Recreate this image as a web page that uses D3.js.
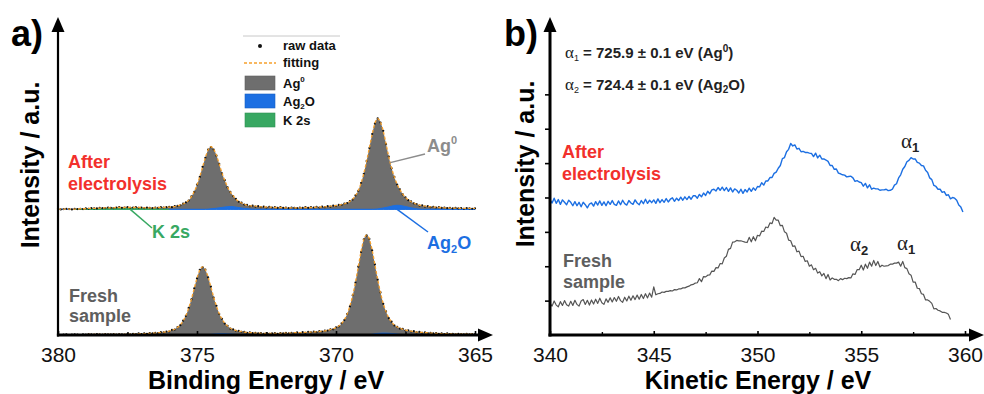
<!DOCTYPE html>
<html>
<head>
<meta charset="utf-8">
<script src="https://cdn.jsdelivr.net/npm/d3@7"></script>
<style>
  body { margin: 0; background: #fff; }
  svg { display: block; }
  text { font-family: "Liberation Sans", Arial, sans-serif; }
</style>
</head>
<body>
<svg id="chart" width="984" height="394"></svg>
<script>
// ---------------- Panel a: Ag 3d XPS (binding energy grid 380 -> 365 eV, 0.1 eV step) ----------------
const beStart = 380, beStep = 0.1;
const afterOffset = 39.5;   // vertical stacking offset of the "after electrolysis" spectrum

const afterFit = [
  0.1,0.1,0.1,0.1,0.1,0.1,0.1,0.1,0.2,0.2,
  0.2,0.3,0.3,0.3,0.4,0.4,0.4,0.5,0.5,0.5,
  0.5,0.6,0.6,0.6,0.6,0.6,0.6,0.6,0.6,0.6,
  0.6,0.5,0.5,0.5,0.5,0.5,0.6,0.6,0.6,0.7,
  0.7,0.8,0.9,1.1,1.4,1.7,2.1,2.9,4.0,5.6,
  7.7,10.3,13.3,16.3,18.7,19.7,18.9,17.0,14.2,11.4,
  9.1,7.0,5.4,4.3,3.2,2.5,2.0,1.6,1.3,1.1,
  1.1,1.0,0.9,0.8,0.8,0.7,0.7,0.7,0.6,0.6,
  0.6,0.6,0.5,0.5,0.5,0.5,0.5,0.5,0.5,0.6,
  0.6,0.6,0.6,0.7,0.7,0.8,0.8,0.9,1.0,1.1,
  1.2,1.3,1.5,1.7,2.1,2.5,3.2,4.3,5.9,8.2,
  11.3,15.1,19.4,23.6,27.1,28.5,27.4,24.6,20.6,16.5,
  13.0,10.1,7.9,6.2,4.8,3.7,3.0,2.4,2.0,1.6,
  1.3,1.2,1.0,0.9,0.8,0.7,0.7,0.6,0.6,0.5,
  0.5,0.4,0.4,0.4,0.4,0.3,0.3,0.3,0.3,0.3,
  0.3
];
const afterRaw = [
  0.2,0.0,0.1,0.2,0.1,0.0,0.2,0.1,0.2,0.1,
  0.3,0.2,0.4,0.3,0.3,0.5,0.4,0.4,0.6,0.5,
  0.4,0.6,0.7,0.5,0.6,0.7,0.5,0.6,0.7,0.5,
  0.6,0.4,0.6,0.5,0.4,0.6,0.5,0.7,0.6,0.7,
  0.8,0.7,1.0,1.1,1.3,1.8,2.2,2.8,4.1,5.5,
  7.8,10.2,13.4,16.2,18.8,19.6,18.8,16.9,14.3,11.3,
  9.2,6.9,5.5,4.2,3.3,2.4,2.1,1.5,1.4,1.0,
  1.2,0.9,1.0,0.7,0.9,0.6,0.8,0.6,0.7,0.5,
  0.7,0.5,0.6,0.4,0.6,0.5,0.4,0.6,0.5,0.7,
  0.5,0.7,0.6,0.8,0.6,0.9,0.7,1.0,0.9,1.2,
  1.1,1.4,1.4,1.8,2.0,2.6,3.1,4.4,5.8,8.3,
  11.2,15.2,19.3,23.7,27.0,28.6,27.3,24.7,20.5,16.6,
  12.9,10.2,7.8,6.3,4.7,3.8,2.9,2.5,1.9,1.7,
  1.2,1.3,0.9,1.0,0.7,0.8,0.6,0.7,0.5,0.6,
  0.4,0.5,0.3,0.5,0.3,0.4,0.2,0.4,0.3,0.2,
  0.3
];
const freshFit = [
  0.1,0.1,0.1,0.1,0.1,0.1,0.1,0.1,0.1,0.1,
  0.1,0.2,0.2,0.2,0.2,0.2,0.2,0.2,0.2,0.2,
  0.2,0.2,0.2,0.2,0.2,0.3,0.3,0.3,0.3,0.4,
  0.4,0.4,0.5,0.5,0.6,0.6,0.7,0.8,0.9,1.0,
  1.2,1.5,1.8,2.4,3.2,4.4,6.1,8.4,11.3,14.6,
  17.9,20.4,21.4,20.5,18.2,15.1,11.9,9.1,6.7,5.0,
  3.7,2.8,2.1,1.7,1.4,1.2,1.1,0.9,0.8,0.7,
  0.7,0.6,0.6,0.5,0.5,0.5,0.5,0.5,0.5,0.5,
  0.5,0.6,0.6,0.6,0.6,0.7,0.7,0.7,0.8,0.8,
  0.9,0.9,1.0,1.0,1.1,1.2,1.3,1.5,1.7,1.9,
  2.3,2.8,3.6,4.8,6.5,9.1,12.4,16.6,21.4,26.2,
  30.0,31.4,30.1,26.7,22.1,17.5,13.3,9.9,7.3,5.4,
  4.1,3.1,2.5,2.1,1.8,1.5,1.4,1.2,1.1,0.9,
  0.9,0.8,0.7,0.7,0.6,0.6,0.5,0.5,0.4,0.4,
  0.4,0.4,0.3,0.3,0.3,0.3,0.3,0.3,0.3,0.3,
  0.3
];
const freshRaw = [
  0.2,0.0,0.1,0.2,0.0,0.1,0.2,0.1,0.0,0.2,
  0.1,0.3,0.2,0.1,0.3,0.2,0.1,0.3,0.2,0.2,
  0.3,0.1,0.3,0.2,0.1,0.4,0.2,0.4,0.3,0.5,
  0.3,0.5,0.4,0.6,0.5,0.7,0.6,0.9,0.8,1.1,
  1.1,1.6,1.7,2.5,3.1,4.5,6.0,8.5,11.2,14.7,
  17.8,20.5,21.3,20.6,18.1,15.2,11.8,9.2,6.6,5.1,
  3.6,2.9,2.0,1.8,1.3,1.3,1.0,1.0,0.7,0.8,
  0.6,0.7,0.5,0.6,0.4,0.6,0.4,0.5,0.6,0.4,
  0.6,0.5,0.7,0.5,0.7,0.6,0.8,0.6,0.9,0.7,
  1.0,0.8,1.1,0.9,1.2,1.1,1.4,1.4,1.8,1.8,
  2.4,2.7,3.7,4.7,6.6,9.0,12.5,16.5,21.5,26.1,
  30.1,31.3,30.2,26.6,22.2,17.4,13.4,9.8,7.4,5.3,
  4.2,3.0,2.6,2.0,1.9,1.4,1.5,1.1,1.2,0.8,
  1.0,0.7,0.8,0.6,0.7,0.5,0.6,0.4,0.5,0.3,
  0.5,0.3,0.4,0.2,0.4,0.3,0.2,0.4,0.2,0.3,
  0.3
];
// fitted minor components, [binding energy, intensity]
const afterAg2O = [
  [380,0],[374.7,0],[374.5,0.17],[374.3,0.37],[374.1,0.62],[373.9,0.85],[373.8,0.9],[373.7,0.85],
  [373.5,0.58],[373.3,0.32],[373.1,0.14],[372.9,0],[368.7,0],[368.5,0.15],[368.3,0.45],[368.1,0.8],
  [367.9,1.2],[367.8,1.3],[367.7,1.25],[367.5,0.9],[367.3,0.5],[367.1,0.2],[366.9,0],[365,0]
];
const freshAg2O = [
  [380,0],[374.7,0],[374.5,0.2],[374.3,0.35],[374.1,0.4],[373.9,0.35],[373.7,0.25],[373.5,0.1],
  [373.3,0],[368.9,0],[368.7,0.25],[368.5,0.5],[368.3,0.6],[368.1,0.55],[367.9,0.4],[367.7,0.2],
  [367.5,0],[365,0]
];
const afterK2s = [
  [379.4,0],[379.2,0.05],[379.0,0.1],[378.6,0.22],[378.2,0.33],[377.8,0.4],[377.6,0.4],
  [377.2,0.34],[376.8,0.22],[376.4,0.1],[376.0,0]
];
const beTicks = [380, 375, 370, 365];
const beTickLabels = ["380", "375", "370", "365"];
const beMinorTicks = [377.5, 372.5, 367.5];

// ---------------- Panel b: Ag MNN Auger (kinetic energy grid from 340 eV, 0.1 eV step) ----------------
const keStart = 340, keStep = 0.1;
const afterAuger = [
  3.93,3.84,3.98,3.83,3.94,3.80,3.93,3.86,3.79,3.92,
  3.86,3.76,3.88,3.76,3.86,3.73,3.86,3.79,3.70,3.81,
  3.84,3.75,3.88,3.78,3.90,3.77,3.87,3.76,3.89,3.80,
  3.91,3.80,3.77,3.90,3.79,3.92,3.82,3.78,3.91,3.84,
  3.80,3.93,3.84,3.79,3.91,3.82,3.95,3.83,3.92,3.85,
  3.93,3.83,3.96,3.85,3.94,3.86,3.97,3.87,3.95,3.99,
  3.89,3.98,3.91,4.01,3.92,4.02,3.94,4.03,3.95,4.05,
  4.05,3.98,4.09,4.02,4.13,4.06,4.18,4.11,4.22,4.24,
  4.19,4.29,4.21,4.30,4.20,4.29,4.18,4.28,4.16,4.25,
  4.21,4.13,4.24,4.12,4.23,4.16,4.27,4.18,4.28,4.21,
  4.32,4.31,4.43,4.36,4.48,4.48,4.58,4.58,4.70,4.74,
  4.85,4.93,5.13,5.16,5.33,5.40,5.57,5.50,5.53,5.41,
  5.43,5.33,5.34,5.31,5.31,5.29,5.28,5.19,5.29,5.15,
  5.23,5.12,5.12,5.09,5.05,4.93,4.93,4.82,4.83,4.71,
  4.69,4.66,4.65,4.60,4.61,4.62,4.57,4.47,4.49,4.45,
  4.43,4.33,4.41,4.28,4.37,4.24,4.27,4.25,4.25,4.21,
  4.22,4.22,4.24,4.20,4.21,4.24,4.36,4.40,4.57,4.66,
  4.82,4.90,5.04,5.08,5.16,5.12,5.12,5.02,5.00,4.93,
  4.92,4.79,4.73,4.57,4.52,4.35,4.32,4.24,4.24,4.15,
  4.17,4.06,4.08,3.96,4.00,3.98,3.92,3.78,3.72,3.58
];
const freshAuger = [
  0.92,0.84,0.99,0.87,0.82,0.97,0.86,1.00,0.88,0.84,
  0.98,0.86,1.01,0.89,0.84,0.99,1.03,0.89,1.01,0.87,
  1.02,0.90,1.04,0.92,1.07,0.94,0.89,1.05,0.95,1.08,
  0.96,1.09,0.98,1.12,1.00,0.95,1.10,0.99,1.13,1.01,
  1.14,1.03,1.16,1.04,1.18,1.06,1.20,1.08,1.22,1.10,
  1.40,1.17,1.20,1.21,1.25,1.24,1.27,1.27,1.29,1.28,
  1.32,1.31,1.34,1.34,1.37,1.37,1.40,1.42,1.46,1.47,
  1.51,1.52,1.64,1.55,1.70,1.69,1.74,1.75,1.86,1.85,
  1.96,1.95,2.08,2.07,2.24,2.29,2.49,2.52,2.70,2.71,
  2.75,2.74,2.74,2.72,2.70,2.69,2.84,2.71,2.86,2.74,
  2.90,2.88,3.02,3.01,3.14,3.12,3.26,3.24,3.42,3.34,
  3.34,3.18,3.19,3.00,2.96,2.76,2.74,2.58,2.59,2.42,
  2.44,2.28,2.29,2.14,2.16,2.00,2.04,1.90,1.94,1.80,
  1.84,1.72,1.79,1.64,1.76,1.60,1.66,1.62,1.62,1.58,
  1.64,1.61,1.65,1.64,1.67,1.66,1.78,1.76,1.90,1.90,
  2.03,1.89,2.06,1.94,2.12,2.00,2.17,2.02,2.14,1.98,
  2.03,2.00,2.01,2.02,2.06,2.06,2.09,2.09,2.12,2.00,
  2.14,1.96,1.93,1.78,1.74,1.54,1.54,1.36,1.35,1.20,
  1.18,1.02,1.02,0.98,0.92,0.76,0.77,0.72,0.70,0.66,
  0.66,0.64,0.60,0.45
];
const keTicks = [340, 345, 350, 355, 360];
const keTickLabels = ["340", "345", "350", "355", "360"];
const keMinorTicks = [342.5, 347.5, 352.5, 357.5];
const intensityTicksB = [1, 2, 3, 4, 5, 6, 7];

// ---------------- colours ----------------
const C = {
  red: "#f2302c", grayText: "#5e5e5e", ag0Text: "#8c8c8c", ag0Fill: "#6e6e6e",
  blue: "#1c6fe2", green: "#38a862", orange: "#f6a02c", fresh: "#555555"
};

const svg = d3.select("#chart");
const AXIS_Y = 335;

// ---------------- scales ----------------
const xA = d3.scaleLinear().domain([380, 365]).range([58, 475]);
const yA = d3.scaleLinear().domain([0, 100]).range([AXIS_Y, 17]);
const xB = d3.scaleLinear().domain([340, 360]).range([550, 965]);
const yB = d3.scaleLinear().domain([0, 9.25]).range([AXIS_Y, 17]);

const beOf = i => beStart - i * beStep;
const keOf = i => keStart + i * keStep;

// ---------------- panel a: spectra ----------------
const gA = svg.append("g");
const spectraA = [
  { fit: afterFit, raw: afterRaw, ag2o: afterAg2O, k2s: afterK2s, offset: afterOffset },
  { fit: freshFit, raw: freshRaw, ag2o: freshAg2O, k2s: null, offset: 0 }
];

spectraA.forEach(s => {
  const base = yA(s.offset);
  // Ag0 component fill
  gA.append("path")
    .datum(s.fit)
    .attr("fill", C.ag0Fill)
    .attr("d", d3.area()
      .x((d, i) => xA(beOf(i)))
      .y0(base)
      .y1(d => yA(s.offset + d))
      .curve(d3.curveMonotoneX));
  // Ag2O component
  gA.append("path")
    .datum(s.ag2o)
    .attr("fill", C.blue)
    .attr("stroke", C.blue)
    .attr("stroke-width", 1)
    .attr("d", d3.area()
      .x(d => xA(d[0]))
      .y0(base)
      .y1(d => yA(s.offset + d[1]))
      .curve(d3.curveMonotoneX));
  // K 2s component
  if (s.k2s) {
    gA.append("path")
      .datum(s.k2s)
      .attr("fill", C.green)
      .attr("stroke", C.green)
      .attr("stroke-width", 1)
      .attr("d", d3.area()
        .x(d => xA(d[0]))
        .y0(base)
        .y1(d => yA(s.offset + d[1]))
        .curve(d3.curveMonotoneX));
  }
  // raw data points
  gA.append("g")
    .selectAll("circle")
    .data(s.raw)
    .join("circle")
    .attr("cx", (d, i) => xA(beOf(i)))
    .attr("cy", d => yA(s.offset + d))
    .attr("r", 1.1)
    .attr("fill", "#111");
  // fit envelope
  gA.append("path")
    .datum(s.fit)
    .attr("fill", "none")
    .attr("stroke", C.orange)
    .attr("stroke-width", 1.3)
    .attr("stroke-dasharray", "3,2")
    .attr("d", d3.line()
      .x((d, i) => xA(beOf(i)))
      .y(d => yA(s.offset + d))
      .curve(d3.curveMonotoneX));
});

// ---------------- panel b: spectra ----------------
const gB = svg.append("g");
[[afterAuger, C.blue, 1.4], [freshAuger, C.fresh, 1.2]].forEach(([vals, col, w]) => {
  gB.append("path")
    .datum(vals)
    .attr("fill", "none")
    .attr("stroke", col)
    .attr("stroke-width", w)
    .attr("stroke-linejoin", "round")
    .attr("d", d3.line()
      .x((d, i) => xB(keOf(i)))
      .y(d => yB(d)));
});

// ---------------- axes ----------------
function bottomAxis(x, major, labels, minor) {
  const g = svg.append("g").attr("transform", `translate(0,${AXIS_Y})`);
  g.call(d3.axisBottom(x).tickValues(major).tickFormat((d, i) => labels[i])
      .tickSize(-4).tickPadding(12))
    .call(a => a.select(".domain").remove());
  g.selectAll(".tick line").attr("stroke-width", 1.6);
  g.selectAll(".tick text")
    .attr("font-size", 21)
    .attr("font-family", '"Liberation Sans", Arial, sans-serif')
    .attr("fill", "#111");
  const gm = svg.append("g").attr("transform", `translate(0,${AXIS_Y})`);
  gm.call(d3.axisBottom(x).tickValues(minor).tickFormat("").tickSize(-3))
    .call(a => a.select(".domain").remove());
  gm.selectAll(".tick line").attr("stroke-width", 1.4);
}
bottomAxis(xA, beTicks, beTickLabels, beMinorTicks);
bottomAxis(xB, keTicks, keTickLabels, keMinorTicks);

const gyB = svg.append("g").attr("transform", `translate(${xB.range()[0]},0)`);
gyB.call(d3.axisLeft(yB).tickValues(intensityTicksB).tickFormat("").tickSize(5))
  .call(a => a.select(".domain").remove());
gyB.selectAll(".tick line").attr("stroke-width", 1.6);

// axis lines with arrow heads
function arrowAxes(x0, xTip, yTip, wx, wy) {
  const g = svg.append("g");
  g.append("line").attr("x1", x0 - wy / 2).attr("x2", xTip - 10)
    .attr("y1", AXIS_Y).attr("y2", AXIS_Y).attr("stroke", "#000").attr("stroke-width", wx);
  g.append("path").attr("d", `M${xTip - 15},${AXIS_Y - 6.5}L${xTip},${AXIS_Y}L${xTip - 15},${AXIS_Y + 6.5}Z`)
    .attr("fill", "#000");
  g.append("line").attr("x1", x0).attr("x2", x0)
    .attr("y1", AXIS_Y + wx / 2).attr("y2", yTip + 10).attr("stroke", "#000").attr("stroke-width", wy);
  g.append("path").attr("d", `M${x0 - 6.5},${yTip + 15}L${x0},${yTip}L${x0 + 6.5},${yTip + 15}Z`)
    .attr("fill", "#000");
}
arrowAxes(xA.range()[0], 493, 17, 3, 2.2);
arrowAxes(xB.range()[0], 984, 17, 3, 3);

// ---------------- titles ----------------
const bold = (sel) => sel.attr("font-weight", "bold");
bold(svg.append("text").attr("x", 11).attr("y", 46).attr("font-size", 36).text("a)"));
bold(svg.append("text").attr("x", 504).attr("y", 46).attr("font-size", 36).text("b)"));

bold(svg.append("text").attr("x", 266).attr("y", 389).attr("font-size", 25)
  .attr("text-anchor", "middle").text("Binding Energy / eV"));
bold(svg.append("text").attr("x", 758).attr("y", 389).attr("font-size", 25)
  .attr("text-anchor", "middle").text("Kinetic Energy / eV"));
bold(svg.append("text").attr("transform", "translate(39,165) rotate(-90)").attr("font-size", 25)
  .attr("text-anchor", "middle").text("Intensity / a.u."));
bold(svg.append("text").attr("transform", "translate(534,164) rotate(-90)").attr("font-size", 25)
  .attr("text-anchor", "middle").text("Intensity / a.u."));

// two-line sample labels
function twoLine(x, y1, y2, l1, l2, col) {
  const t = svg.append("text").attr("font-size", 18).attr("font-weight", "bold").attr("fill", col);
  t.append("tspan").attr("x", x).attr("y", y1).text(l1);
  t.append("tspan").attr("x", x).attr("y", y2).text(l2);
}
twoLine(68, 168, 190, "After", "electrolysis", C.red);
twoLine(69, 302, 322, "Fresh", "sample", C.grayText);
twoLine(562, 158, 180, "After", "electrolysis", C.red);
twoLine(563, 267, 288, "Fresh", "sample", C.grayText);

// ---------------- panel a: component call-outs ----------------
svg.append("line")
  .attr("x1", xA(368.05)).attr("y1", yA(afterOffset + 14.7)).attr("x2", 425).attr("y2", 154)
  .attr("stroke", C.ag0Text).attr("stroke-width", 1.5);
const tAg0 = svg.append("text").attr("x", 427).attr("y", 152).attr("font-size", 18)
  .attr("font-weight", "bold").attr("fill", C.ag0Text);
tAg0.append("tspan").text("Ag");
tAg0.append("tspan").attr("font-size", 11).attr("dy", -8).text("0");

svg.append("line")
  .attr("x1", xA(367.8)).attr("y1", yA(afterOffset)).attr("x2", 428).attr("y2", 232)
  .attr("stroke", C.blue).attr("stroke-width", 1.5);
const tAg2O = svg.append("text").attr("x", 427).attr("y", 249).attr("font-size", 18)
  .attr("font-weight", "bold").attr("fill", C.blue);
tAg2O.append("tspan").text("Ag");
tAg2O.append("tspan").attr("font-size", 11).attr("dy", 4).text("2");
tAg2O.append("tspan").attr("dy", -4).text("O");

svg.append("line")
  .attr("x1", xA(377.4)).attr("y1", yA(afterOffset)).attr("x2", 152).attr("y2", 228)
  .attr("stroke", C.green).attr("stroke-width", 1.5);
svg.append("text").attr("x", 152).attr("y", 238).attr("font-size", 18)
  .attr("font-weight", "bold").attr("fill", C.green).text("K 2s");

// ---------------- panel a: legend ----------------
const lg = svg.append("g").attr("font-size", 13).attr("font-weight", "bold").attr("fill", "#111");
lg.append("line").attr("x1", 243).attr("x2", 340).attr("y1", 36).attr("y2", 36)
  .attr("stroke", "#c8c8c8").attr("stroke-width", 1);
lg.append("circle").attr("cx", 260).attr("cy", 46).attr("r", 2).attr("fill", "#111");
lg.append("text").attr("x", 283).attr("y", 50).text("raw data");
lg.append("line").attr("x1", 244).attr("x2", 276).attr("y1", 63).attr("y2", 63)
  .attr("stroke", C.orange).attr("stroke-width", 1.3).attr("stroke-dasharray", "3,2");
lg.append("text").attr("x", 283).attr("y", 67).text("fitting");
const legendRects = [
  { y: 76, fill: C.ag0Fill, parts: [["Ag", 0], ["0", -6]] },
  { y: 94, fill: C.blue, parts: [["Ag", 0], ["2", 3], ["O", -3]] },
  { y: 113, fill: C.green, parts: [["K 2s", 0]] }
];
legendRects.forEach(r => {
  lg.append("rect").attr("x", 245).attr("y", r.y).attr("width", 30).attr("height", 14)
    .attr("fill", r.fill).attr("stroke", d3.color(r.fill).darker(0.4)).attr("stroke-width", 0.6);
  const t = lg.append("text").attr("x", 283).attr("y", r.y + 12);
  r.parts.forEach(([s, dy], i) => {
    const sp = t.append("tspan").attr("dy", dy).text(s);
    if (s === "0" || s === "2") sp.attr("font-size", 8);
  });
});

// ---------------- panel b: Auger parameter notes and peak marks ----------------
function alphaLine(x, y, sub, rest, supOrSub, tail, shift) {
  const t = svg.append("text").attr("x", x).attr("y", y).attr("font-size", 15)
    .attr("font-weight", "bold").attr("fill", "#222");
  t.append("tspan").attr("font-family", '"Liberation Serif", "DejaVu Serif", serif')
    .attr("font-weight", "normal").attr("font-size", 17).text("α");
  t.append("tspan").attr("font-size", 9).attr("font-weight", "normal").attr("dy", 3).text(sub);
  t.append("tspan").attr("dy", -3).text(rest);
  t.append("tspan").attr("font-size", 10).attr("dy", shift).text(supOrSub);
  t.append("tspan").attr("dy", -shift).text(tail);
}
alphaLine(565, 58, "1", " = 725.9 ± 0.1 eV (Ag", "0", ")", -6);
alphaLine(565, 90, "2", " = 724.4 ± 0.1 eV (Ag", "2", "O)", 3);

function alphaMark(x, y, sub) {
  const t = svg.append("text").attr("x", x).attr("y", y).attr("fill", "#222");
  t.append("tspan").attr("font-family", '"Liberation Serif", "DejaVu Serif", serif')
    .attr("font-size", 21).text("α");
  t.append("tspan").attr("font-size", 13).attr("font-weight", "bold").attr("dy", 4).text(sub);
}
alphaMark(901, 148, "1");
alphaMark(850, 251, "2");
alphaMark(897, 250, "1");
</script>
</body>
</html>
